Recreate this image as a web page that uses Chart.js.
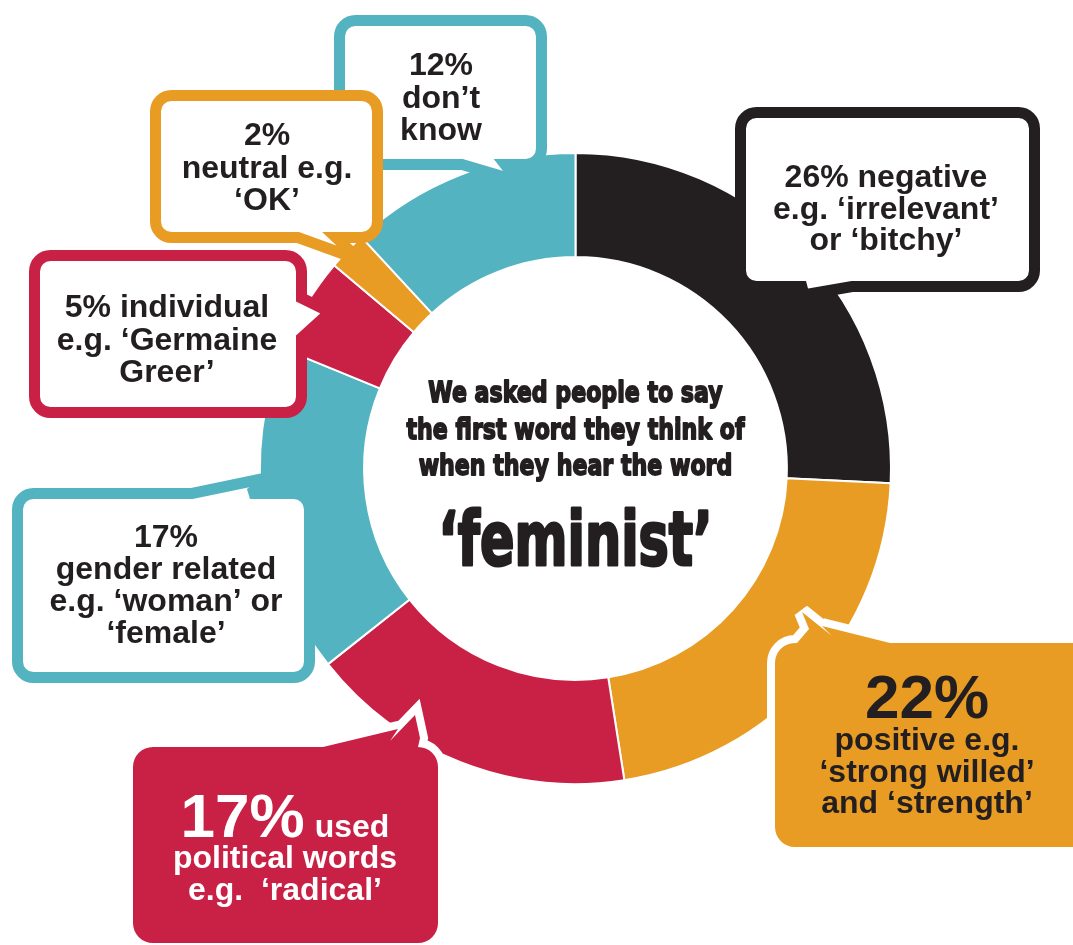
<!DOCTYPE html>
<html>
<head>
<meta charset="utf-8">
<title>The word 'feminist'</title>
<script src="https://cdn.jsdelivr.net/npm/chart.js@4.4.1/dist/chart.umd.min.js"></script>
<style>
    html, body { margin: 0; padding: 0; background: #fff; }
    #wrap { width: 1073px; height: 945px; overflow: hidden; }
</style>
</head>
<body>
<div id="wrap"><canvas id="feministChart" width="1073" height="945"></canvas></div>
<script>
// First word people think of when they hear 'feminist' (percent)
const categories = ['Negative', 'Positive', 'Political words', 'Gender related', 'Individual', 'Neutral', 'Don\u2019t know'];
const shares = [26, 22, 17, 17, 5, 2, 12];
const sliceColors = ['#231f20', '#e99c24', '#c92046', '#54b3c0', '#c92046', '#e99c24', '#54b3c0'];

// Bubble text, same order as categories
const bubbleLines = [
    ['26% negative', 'e.g. \u2018irrelevant\u2019', 'or \u2018bitchy\u2019'],
    ['positive e.g.', '\u2018strong willed\u2019', 'and \u2018strength\u2019'],
    ['political words', 'e.g.  \u2018radical\u2019'],
    ['17%', 'gender related', 'e.g. \u2018woman\u2019 or', '\u2018female\u2019'],
    ['5% individual', 'e.g. \u2018Germaine', 'Greer\u2019'],
    ['2%', 'neutral e.g.', '\u2018OK\u2019'],
    ['12%', 'don\u2019t', 'know']
];

const introLines = ['We asked people to say', 'the first word they think of', 'when they hear the word'];
const keyWord = '\u2018feminist\u2019';

const INK = '#231f20';
const TEXT_FONT = 'bold 32px "Liberation Sans", Arial, sans-serif';
const BIG_FONT = 'bold 62px "Liberation Sans", Arial, sans-serif';

// Speech bubble layout (drawing order matters: later ones sit on top)
const callouts = [
    { idx: 6, kind: 'outline', box: [339.5, 20.5, 202, 144], radius: 16, edge: 'bottom',
      tail: [[505, 164.5], [518, 181], [462, 164.5]], textX: 441, firstLine: 75, lineHeight: 32.5 },
    { idx: 5, kind: 'outline', box: [155.5, 95.5, 222, 142], radius: 16, edge: 'bottom',
      tail: [[336, 237.5], [360, 260], [298, 237.5]], textX: 267, firstLine: 145, lineHeight: 32.5 },
    { idx: 4, kind: 'outline', box: [34.5, 255.5, 267, 157], radius: 16, edge: 'right',
      tail: [[301.5, 298], [330, 312], [301.5, 338]], textX: 167, firstLine: 317, lineHeight: 32.5 },
    { idx: 3, kind: 'outline', box: [17.5, 493.5, 292, 184], radius: 16, edge: 'top',
      tail: [[192, 493.5], [276, 476], [250, 493.5]], textX: 166, firstLine: 547, lineHeight: 32 },
    { idx: 0, kind: 'outline', box: [740.5, 112.5, 294, 174], radius: 16, edge: 'bottom',
      tail: [[852, 286.5], [786, 298], [806, 286.5]], textX: 886, firstLine: 187, lineHeight: 31.5 },
    { idx: 2, kind: 'filled', box: [133, 747, 305, 196], radius: 20, edge: 'top',
      tail: [[323, 747], [398, 729], [390, 741], [415, 715], [420, 738]],
      textX: 285, firstLine: 868, lineHeight: 32, bigText: '17%', bigSuffix: 'used', bigLine: 837, textColor: '#ffffff' },
    { idx: 1, kind: 'filled', box: [775, 643, 320, 204], radius: 20, edge: 'top',
      tail: [[797, 643], [809, 629], [802, 612], [832, 636], [822, 626], [890, 643]],
      textX: 927, firstLine: 750, lineHeight: 31.5, bigText: '22%', bigLine: 718, textColor: INK }
];

function bubblePath(ctx, c) {
    const [x, y, w, h] = c.box;
    const r = c.radius;
    const addTail = side => {
        if (c.edge === side) c.tail.forEach(p => ctx.lineTo(p[0], p[1]));
    };
    ctx.beginPath();
    ctx.moveTo(x + r, y);
    addTail('top');
    ctx.lineTo(x + w - r, y);
    ctx.arcTo(x + w, y, x + w, y + r, r);
    addTail('right');
    ctx.lineTo(x + w, y + h - r);
    ctx.arcTo(x + w, y + h, x + w - r, y + h, r);
    addTail('bottom');
    ctx.lineTo(x + r, y + h);
    ctx.arcTo(x, y + h, x, y + h - r, r);
    addTail('left');
    ctx.lineTo(x, y + r);
    ctx.arcTo(x, y, x + r, y, r);
    ctx.closePath();
}

function drawCallout(ctx, c) {
    const color = sliceColors[c.idx];
    ctx.save();
    ctx.lineJoin = 'miter';
    ctx.miterLimit = 3;
    bubblePath(ctx, c);
    if (c.kind === 'outline') {
        ctx.fillStyle = '#ffffff';
        ctx.fill();
        ctx.lineWidth = 11;
        ctx.strokeStyle = color;
        ctx.stroke();
    } else {
        ctx.lineWidth = 16;
        ctx.strokeStyle = '#ffffff';
        ctx.stroke();
        ctx.fillStyle = color;
        ctx.fill();
    }

    ctx.fillStyle = c.textColor || INK;
    ctx.textBaseline = 'alphabetic';

    if (c.bigText) {
        ctx.font = BIG_FONT;
        const bigW = ctx.measureText(c.bigText).width;
        if (c.bigSuffix) {
            ctx.font = TEXT_FONT;
            const gap = 10;
            const sufW = ctx.measureText(c.bigSuffix).width;
            const left = c.textX - (bigW + gap + sufW) / 2;
            ctx.textAlign = 'left';
            ctx.font = BIG_FONT;
            ctx.fillText(c.bigText, left, c.bigLine);
            ctx.font = TEXT_FONT;
            ctx.fillText(c.bigSuffix, left + bigW + gap, c.bigLine);
        } else {
            ctx.textAlign = 'center';
            ctx.fillText(c.bigText, c.textX, c.bigLine);
        }
    }

    ctx.font = TEXT_FONT;
    ctx.textAlign = 'center';
    bubbleLines[c.idx].forEach((line, k) => {
        ctx.fillText(line, c.textX, c.firstLine + k * c.lineHeight);
    });
    ctx.restore();
}

function drawSqueezed(ctx, text, x, y, sx) {
    ctx.save();
    ctx.translate(x, y);
    ctx.scale(sx, 1);
    ctx.fillText(text, 0, 0);
    ctx.strokeText(text, 0, 0);
    ctx.restore();
}

const calloutPlugin = {
    id: 'callouts',
    afterDatasetsDraw(chart) {
        const ctx = chart.ctx;
        callouts.forEach(c => drawCallout(ctx, c));

        // centre text, condensed heavy look
        const arc = chart.getDatasetMeta(0).data[0];
        const cx = arc.x, cy = arc.y;
        ctx.save();
        ctx.fillStyle = INK;
        ctx.strokeStyle = INK;
        ctx.lineJoin = 'round';
        ctx.textAlign = 'center';
        ctx.textBaseline = 'alphabetic';

        ctx.font = 'bold 28px "DejaVu Sans", sans-serif';
        ctx.lineWidth = 1.8;
        const introScale = 338 / ctx.measureText(introLines[1]).width;
        introLines.forEach((line, k) => {
            drawSqueezed(ctx, line, cx, cy - 66.5 + k * 36.5, introScale);
        });

        ctx.font = 'bold 74px "DejaVu Sans", sans-serif';
        ctx.lineWidth = 3;
        const keyScale = 274 / ctx.measureText(keyWord).width;
        drawSqueezed(ctx, keyWord, cx, cy + 96.5, keyScale);
        ctx.restore();
    }
};

new Chart(document.getElementById('feministChart'), {
    type: 'doughnut',
    data: {
        labels: categories,
        datasets: [{
            data: shares,
            backgroundColor: sliceColors,
            borderColor: '#ffffff',
            borderWidth: 2,
            hoverBorderWidth: 2,
            hoverOffset: 0
        }]
    },
    options: {
        responsive: false,
        animation: false,
        events: [],
        cutout: '67%',
        layout: {
            padding: { top: 152, bottom: 160, left: 259, right: 181 }
        },
        plugins: {
            legend: { display: false },
            tooltip: { enabled: false }
        }
    },
    plugins: [calloutPlugin]
});
</script>
</body>
</html>
